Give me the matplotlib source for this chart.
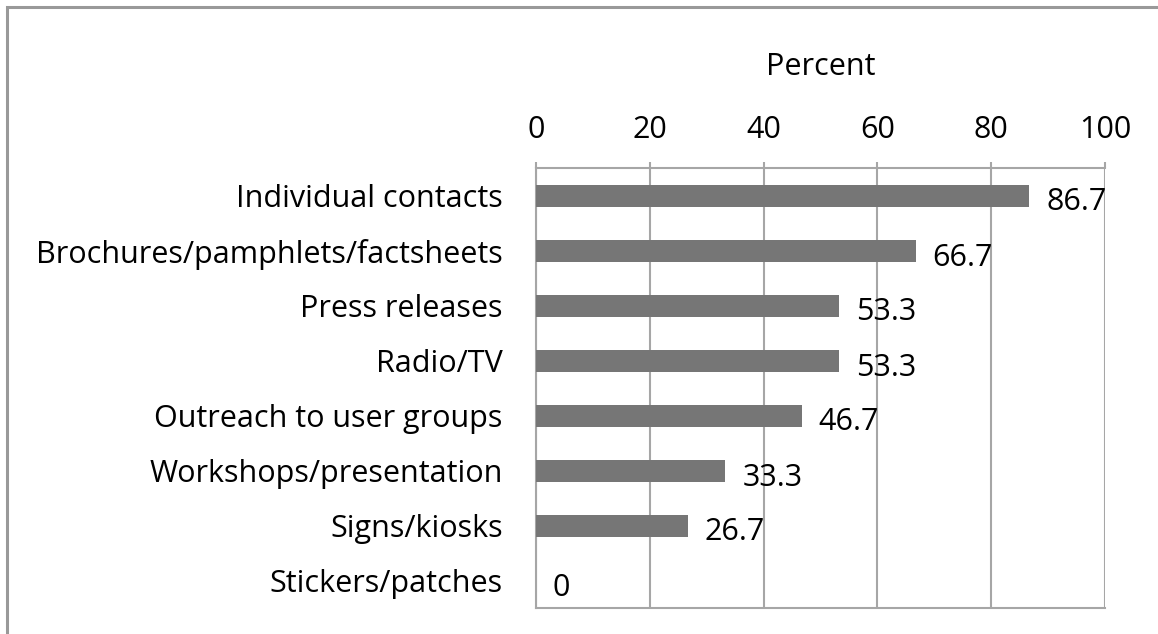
import matplotlib
matplotlib.use("Agg")
import matplotlib.pyplot as plt
from matplotlib.patches import Rectangle

categories = ["Individual contacts", "Brochures/pamphlets/factsheets", "Press releases",
              "Radio/TV", "Outreach to user groups", "Workshops/presentation",
              "Signs/kiosks", "Stickers/patches"]
values = [86.7, 66.7, 53.3, 53.3, 46.7, 33.3, 26.7, 0]
xticks = [0, 20, 40, 60, 80, 100]

plt.rcParams['font.family'] = ['Open Sans', 'DejaVu Sans']
W, H = 1158, 634
FS = 22
fig = plt.figure(figsize=(W/100, H/100), dpi=100)
ax = fig.add_axes([536/W, 1-608/H, (1105-536)/W, (608-168)/H])

y = list(range(len(categories)))
ax.barh(y, values, height=0.4, color='#767676', zorder=3)
ax.set_ylim(len(categories)-0.5, -0.5)
ax.set_xlim(0, 100)
ax.xaxis.tick_top()
ax.xaxis.set_label_position('top')
ax.set_xticks(xticks)
ax.set_xticklabels([str(t) for t in xticks])
ax.set_yticks(y)
ax.set_yticklabels(categories)
ax.tick_params(axis='x', length=4.5, width=1.5, color='#a6a6a6', labelsize=FS, pad=12)
ax.tick_params(axis='y', length=0, labelsize=FS, pad=24)
ax.grid(axis='x', color='#a6a6a6', linewidth=1.5, zorder=0)
for s in ax.spines.values():
    s.set_color('#a6a6a6')
    s.set_linewidth(1.5)
ax.spines['right'].set_visible(False)
ax.set_xlabel('Percent', fontsize=FS, labelpad=29)

for yi, v in zip(y, values):
    ax.annotate(f"{v:g}" if v == 0 else f"{v:.1f}", xy=(v, yi), xytext=(17, -7),
                textcoords='offset pixels', ha='left', va='center', fontsize=FS, zorder=4)

fig.patches.append(Rectangle((7/W, -0.1), 1.2, 1.1 - 7/H, transform=fig.transFigure,
                             fill=False, edgecolor='#999999', linewidth=2.2))
fig.savefig('out.png', dpi=100)
